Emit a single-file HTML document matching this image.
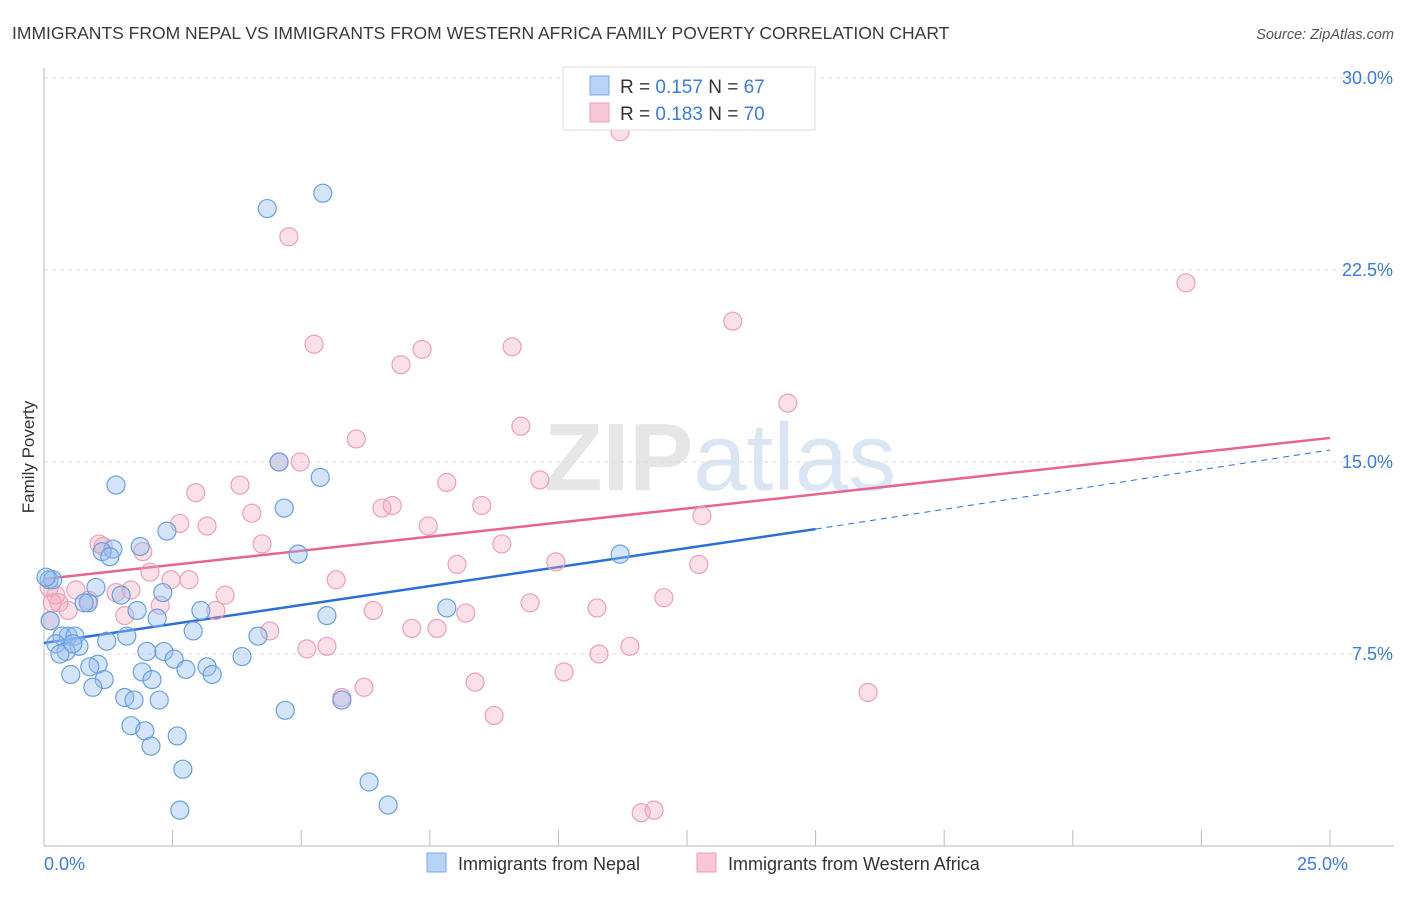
<!DOCTYPE html>
<html><head><meta charset="utf-8"><style>
body{margin:0;background:#fff;font-family:"Liberation Sans",sans-serif;}
svg text{font-family:"Liberation Sans",sans-serif;}
</style></head><body>
<svg width="1406" height="892" xmlns="http://www.w3.org/2000/svg">
<text x="12" y="39" font-size="17.5" fill="#3a3a3a">IMMIGRANTS FROM NEPAL VS IMMIGRANTS FROM WESTERN AFRICA FAMILY POVERTY CORRELATION CHART</text>
<text x="1394" y="39" font-size="14.5" fill="#555" font-style="italic" text-anchor="end">Source: ZipAtlas.com</text>
<text x="720" y="490" font-size="96" text-anchor="middle" font-family="Liberation Serif" fill="#e6e6e6"><tspan font-weight="bold">ZIP</tspan><tspan fill="#dbe6f5" font-family="Liberation Sans">atlas</tspan></text>
<g id="grid"></g>
<g id="axes"></g>
<text transform="translate(34,457) rotate(-90)" font-size="17" fill="#333" text-anchor="middle">Family Poverty</text>
<g id="lines"></g>
<g id="pts"></g>
<g>
<rect x="563" y="67" width="252" height="63" fill="#fff" stroke="#ddd"/>
<rect x="590" y="76" width="19" height="19" fill="#b8d3f5" stroke="#7aa8e6"/>
<text x="620" y="93" font-size="19" fill="#333">R = <tspan fill="#3d7bd9">0.157</tspan>   N = <tspan fill="#3d7bd9">67</tspan></text>
<rect x="590" y="103" width="19" height="19" fill="#f8c6d6" stroke="#eba0b8"/>
<text x="620" y="120" font-size="19" fill="#333">R = <tspan fill="#3d7bd9">0.183</tspan>   N = <tspan fill="#3d7bd9">70</tspan></text>
</g>
<g>
<rect x="427" y="853" width="19" height="19" fill="#b8d3f5" stroke="#7aa8e6"/>
<text x="458" y="870" font-size="18" fill="#333">Immigrants from Nepal</text>
<rect x="697" y="853" width="19" height="19" fill="#f8c6d6" stroke="#eba0b8"/>
<text x="728" y="870" font-size="18" fill="#333">Immigrants from Western Africa</text>
</g>
</svg>
<script>
const xTicks=[0,2.5,5,7.5,10,12.5,15,17.5,20,22.5,25];
const yTicks=[7.5,15,22.5,30];
const yTickLabels=["7.5%","15.0%","22.5%","30.0%"];
const xTickLabels=["0.0%","25.0%"];
const nepalX=[5.42,4.34,4.57,5.37,1.40,4.67,2.39,4.94,1.87,1.34,1.13,1.28,0.10,0.17,1.01,2.31,1.50,0.86,0.78,1.81,3.05,2.20,7.83,5.50,0.12,0.47,0.35,0.60,1.61,1.22,2.90,4.16,0.23,0.68,0.43,0.31,2.00,2.33,2.53,3.85,1.05,0.89,2.76,3.17,3.27,1.91,0.52,1.17,2.10,0.95,1.57,1.75,2.24,4.69,1.69,1.96,2.59,2.08,2.70,6.32,2.64,6.69,5.79,11.20,0.56,0.04];
const nepalY=[25.5,24.9,15.0,14.4,14.1,13.2,12.3,11.4,11.7,11.6,11.5,11.3,10.4,10.4,10.1,9.9,9.8,9.5,9.5,9.2,9.2,8.9,9.3,9.0,8.8,8.2,8.2,8.2,8.2,8.0,8.4,8.2,7.9,7.8,7.6,7.5,7.6,7.6,7.3,7.4,7.1,7.0,6.9,7.0,6.7,6.8,6.7,6.5,6.5,6.2,5.8,5.7,5.7,5.3,4.7,4.5,4.3,3.9,3.0,2.5,1.4,1.6,5.7,11.4,7.9,10.5];
const africaX=[11.20,22.20,4.76,13.39,5.25,7.35,9.10,6.94,14.46,9.27,6.07,3.81,4.57,4.98,7.83,2.95,9.64,6.77,6.57,8.51,4.04,12.79,2.64,3.17,7.47,1.07,1.15,1.92,4.24,8.90,9.95,8.03,2.06,5.68,2.47,12.73,2.82,0.10,0.23,0.62,0.29,0.16,0.47,0.87,1.40,1.69,3.52,2.26,3.34,6.40,8.20,9.45,10.75,12.05,1.57,7.15,7.64,4.39,5.11,5.50,11.39,10.79,10.11,8.38,6.22,5.79,16.02,8.75,11.61,11.86,0.12];
const africaY=[27.9,22.0,23.8,20.5,19.6,19.4,19.5,18.8,17.3,16.4,15.9,14.1,15.0,15.0,14.2,13.8,14.3,13.3,13.2,13.3,13.0,12.9,12.6,12.5,12.5,11.8,11.7,11.5,11.8,11.8,11.1,11.0,10.7,10.4,10.4,11.0,10.4,10.1,9.8,10.0,9.5,9.5,9.2,9.6,9.9,10.0,9.8,9.4,9.2,9.2,9.1,9.5,9.3,9.7,9.0,8.5,8.5,8.4,7.7,7.8,7.8,7.5,6.8,6.4,6.2,5.8,6.0,5.1,1.3,1.4,8.8];
const nepalTrend=[7.93,12.38,15.47]; // y at x=0, x=15 (solid end), x=25
const africaTrend=[10.43,15.94]; // y at x=0, x=25
const NS="http://www.w3.org/2000/svg";
const X=v=>44+v*51.44, Y=v=>846-v*25.6;
function mk(tag,attrs,parent){const e=document.createElementNS(NS,tag);for(const k in attrs)e.setAttribute(k,attrs[k]);document.getElementById(parent).appendChild(e);return e;}
yTicks.forEach((t,i)=>{
 const l=mk('line',{x1:44,x2:1394,y1:Y(t),y2:Y(t),stroke:'#ddd','stroke-dasharray':'4,4'},'grid');
 
 
 const tx=mk('text',{x:1393,y:Y(t)+6,'font-size':18,fill:'#3d7bd9','text-anchor':'end'},'grid');tx.textContent=yTickLabels[i];
 
 
});
const ax=mk('line',{x1:44,x2:1394,y1:846,y2:846,stroke:'#bbb'},'axes');


const ay=mk('line',{x1:44,x2:44,y1:68,y2:846,stroke:'#bbb'},'axes');


xTicks.forEach(t=>{const l=mk('line',{x1:X(t),x2:X(t),y1:846,y2:830,stroke:'#bbb'},'axes');
 
 });
[[0,'start'],[25,'end']].forEach((p,i)=>{const t=mk('text',{x:X(p[0])+(i?18:0),y:870,'font-size':18,fill:'#3d7bd9','text-anchor':p[1]},'axes');t.textContent=xTickLabels[i];
 
 });
function dot(x,y,fill,stroke,name){const c=mk('circle',{cx:X(x),cy:Y(y),r:9,fill:fill,stroke:stroke,'stroke-width':1.2},'pts');
 
 }
africaX.forEach((x,i)=>dot(x,africaY[i],'rgba(245,165,190,0.35)','#eba0b8','western-africa-point'));
nepalX.forEach((x,i)=>dot(x,nepalY[i],'rgba(150,190,240,0.4)','#6a9fe0','nepal-point'));
let l1=mk('line',{x1:X(0),y1:Y(nepalTrend[0]),x2:X(15),y2:Y(nepalTrend[1]),stroke:'#2a6fd6','stroke-width':2.5},'lines');


let l2=mk('line',{x1:X(15),y1:Y(nepalTrend[1]),x2:X(25),y2:Y(nepalTrend[2]),stroke:'#2a6fd6','stroke-width':1,'stroke-dasharray':'6,5'},'lines');


let l3=mk('line',{x1:X(0),y1:Y(africaTrend[0]),x2:X(25),y2:Y(africaTrend[1]),stroke:'#e8648f','stroke-width':2.5},'lines');


</script>
</body></html>
